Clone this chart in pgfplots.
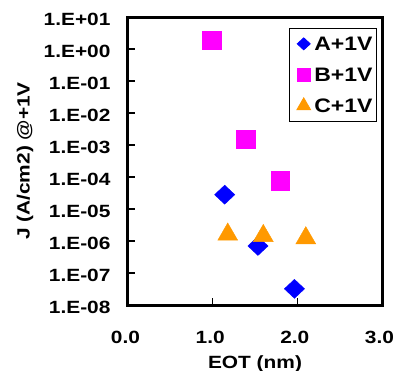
\documentclass[border=0pt]{standalone}
\usepackage{fontspec}
\setmainfont{Liberation Sans}[FakeStretch=1.18]
\usepackage{pgfplots}
\pgfplotsset{compat=1.18}
\definecolor{mblue}{RGB}{0,0,255}
\definecolor{mmag}{RGB}{255,0,255}
\definecolor{morange}{RGB}{255,153,0}
\begin{document}
\begin{tikzpicture}
\begin{axis}[
  scale only axis, width=254bp, height=288bp,
  xmin=0, xmax=3, ymode=log, ymin=1e-8, ymax=1e1,
  axis line style={line width=3bp},
  xtick={0,1,2,3}, xticklabels={0.0,1.0,2.0,3.0},
  ytick={1e-8,1e-7,1e-6,1e-5,1e-4,1e-3,1e-2,1e-1,1e0,1e1},
  yticklabels={1.E-08,1.E-07,1.E-06,1.E-05,1.E-04,1.E-03,1.E-02,1.E-01,1.E+00,1.E+01},
  yminorticks=false,
  tick align=inside, tick pos=left, major tick length=7bp,
  tick style={line width=1.2bp, black},
  /pgf/number format/assume math mode=true,
  ticklabel style={font=\bfseries\fontsize{17.7bp}{20bp}\selectfont},
  yticklabel style={xshift=-14bp, yshift=-2bp},
  xticklabel style={yshift=-23bp, xshift=-2.5bp},
  xlabel={EOT (nm)}, ylabel={J (A/cm2) @+1V},
  every axis x label/.style={at={(axis description cs:0.5,-0.219)}, anchor=base,
    font=\bfseries\fontsize{17.7bp}{20bp}\selectfont},
  every axis y label/.style={at={(axis description cs:-0.405,0.5)}, anchor=center, rotate=90,
    font=\bfseries\fontsize{17.7bp}{20bp}\selectfont},
  clip=false,
  legend style={at={(axis description cs:0.980,0.962)}, anchor=north east,
    draw=black, line width=0.8bp, row sep=0bp, inner xsep=2bp, inner ysep=0bp,
    font=\bfseries\fontsize{19.5bp}{22bp}\selectfont,
    nodes={text height=14bp, text depth=0bp, inner ysep=8.5bp}},
  legend cell align=left,
  legend image code/.code={\path[draw=none,fill=none] (0bp,0bp) rectangle (20.6bp,1bp); \path[#1, draw=none] plot coordinates {(12bp,0bp)};},
]
\addlegendimage{only marks, mark=diamond*, mark size=6bp, color=mblue, mark options={xscale=1.45, draw=mblue}}
\addlegendimage{only marks, mark=square*, mark size=6.5bp, color=mmag, mark options={draw=mmag}}
\addlegendimage{only marks, mark=triangle*, mark size=8bp, color=morange, mark options={draw=morange}}
\legend{A+1V,B+1V,C+1V}
\addplot[forget plot, only marks, mark=square*, mark size=9.2bp, color=mmag]
  coordinates {(0.99,1.9) (1.39,1.5e-3) (1.80,7.6e-5)};
\addplot[forget plot, only marks, mark=diamond*, mark size=9.5bp, color=mblue, mark options={xscale=1.42}]
  coordinates {(1.142,2.8e-5) (1.535,7.0e-7) (1.966,3.2e-8)};
\addplot[forget plot, only marks, mark=triangle*, mark size=11.5bp, color=morange]
  coordinates {(1.178,1.6e-6) (1.598,1.45e-6) (2.10,1.23e-6)};
\end{axis}
\pgfresetboundingbox
\path (current axis.south west) ++(-128bp,-66bp) rectangle ++(393bp,371bp);
\end{tikzpicture}
\end{document}
